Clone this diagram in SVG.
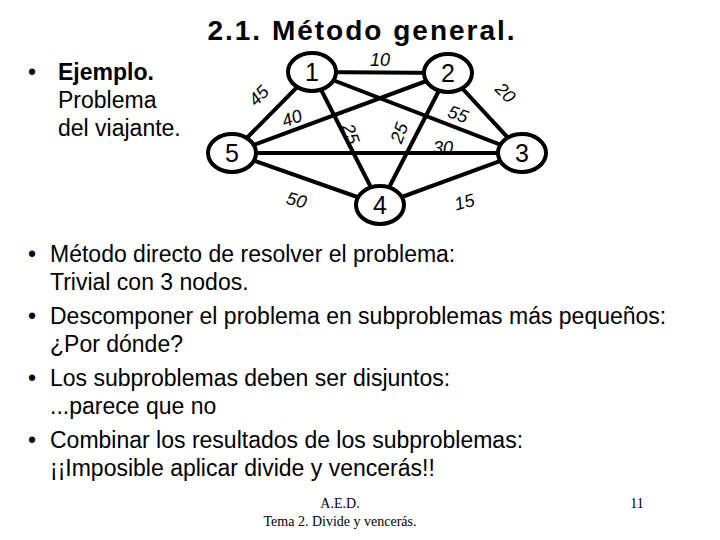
<svg xmlns="http://www.w3.org/2000/svg" width="720" height="540" viewBox="0 0 720 540">
<style>
.e{stroke:#000;stroke-width:4;fill:none}
.n ellipse{fill:#fff;stroke:#000;stroke-width:4}
.n text{font-family:"Liberation Sans",sans-serif;font-size:25px;text-anchor:middle}
.w{font-family:"Liberation Sans",sans-serif;font-size:18px;font-style:italic;text-anchor:middle}
.b{font-family:"Liberation Sans",sans-serif;font-size:23px}
</style>
<rect width="720" height="540" fill="#fff"/>
<text x="362" y="40" text-anchor="middle" font-family="Liberation Sans,sans-serif" font-size="28" font-weight="bold" letter-spacing="2">2.1. Método general.</text>
<g class="b">
<text x="28" y="80">•</text><text x="58" y="80" font-weight="bold">Ejemplo.</text>
<text x="58" y="108">Problema</text>
<text x="58" y="136">del viajante.</text>
</g>
<g id="edges">
<line class="e" x1="312" y1="72" x2="448" y2="73"/>
<line class="e" x1="312" y1="72" x2="232" y2="153"/>
<line class="e" x1="312" y1="72" x2="380" y2="205"/>
<line class="e" x1="312" y1="72" x2="522" y2="153"/>
<line class="e" x1="448" y1="73" x2="232" y2="153"/>
<line class="e" x1="448" y1="73" x2="380" y2="205"/>
<line class="e" x1="448" y1="73" x2="522" y2="153"/>
<line class="e" x1="232" y1="153" x2="522" y2="153"/>
<line class="e" x1="232" y1="153" x2="380" y2="205"/>
<line class="e" x1="380" y1="205" x2="522" y2="153"/>
<text class="w" x="380" y="66">10</text>
<text class="w" transform="translate(263,100) rotate(-45)">45</text>
<text class="w" transform="translate(294,124) rotate(-20)">40</text>
<text class="w" transform="translate(345,136) rotate(70)">25</text>
<text class="w" transform="translate(405,135) rotate(-70)">25</text>
<text class="w" transform="translate(456,120) rotate(20)">55</text>
<text class="w" transform="translate(501,97) rotate(45)">20</text>
<text class="w" x="443" y="154">30</text>
<text class="w" transform="translate(295,206) rotate(15)">50</text>
<text class="w" transform="translate(466,208) rotate(-15)">15</text>
</g>
<g id="n1" class="n"><ellipse cx="312" cy="72" rx="24" ry="19"/><text x="312" y="81">1</text></g>
<g id="n2" class="n"><ellipse cx="448" cy="73" rx="24" ry="19"/><text x="448" y="82">2</text></g>
<g id="n5" class="n"><ellipse cx="232" cy="153" rx="24" ry="19"/><text x="232" y="162">5</text></g>
<g id="n3" class="n"><ellipse cx="522" cy="153" rx="24" ry="19"/><text x="522" y="162">3</text></g>
<g id="n4" class="n"><ellipse cx="380" cy="205" rx="24" ry="19"/><text x="380" y="214">4</text></g>
<g class="b">
<text x="28" y="262">•</text><text x="50" y="262">Método directo de resolver el problema:</text>
<text x="50" y="290">Trivial con 3 nodos.</text>
<text x="28" y="324">•</text><text x="50" y="324">Descomponer el problema en subproblemas más pequeños:</text>
<text x="50" y="352">¿Por dónde?</text>
<text x="28" y="386">•</text><text x="50" y="386">Los subproblemas deben ser disjuntos:</text>
<text x="50" y="414">...parece que no</text>
<text x="28" y="448">•</text><text x="50" y="448">Combinar los resultados de los subproblemas:</text>
<text x="50" y="476">¡¡Imposible aplicar divide y vencerás!!</text>
</g>
<g font-family="Liberation Serif,serif" font-size="14" text-anchor="middle">
<text x="340" y="508">A.E.D.</text>
<text x="340" y="526">Tema 2. Divide y vencerás.</text>
<text x="637" y="508">11</text>
</g>
</svg>
